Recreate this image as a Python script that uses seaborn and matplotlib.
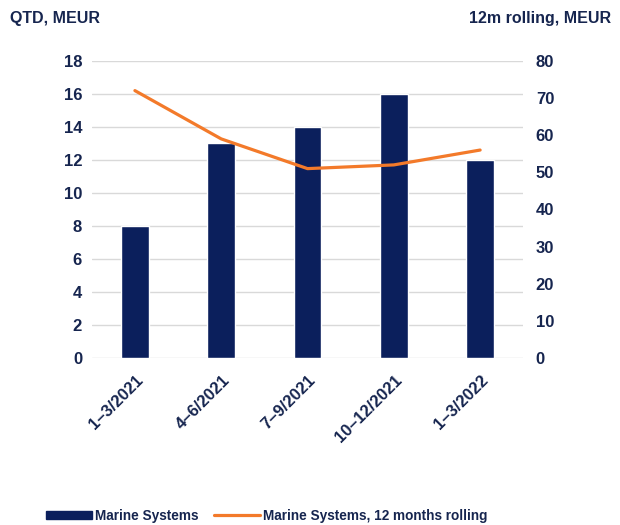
import matplotlib
matplotlib.use("Agg")
import matplotlib.pyplot as plt
import matplotlib.transforms as mtransforms
import seaborn as sns
import numpy as np
import pandas as pd
from matplotlib.patches import Patch
from matplotlib.lines import Line2D

categories = ["1\u20133/2021", "4\u20136/2021", "7\u20139/2021", "10\u201312/2021", "1\u20133/2022"]
qtd_values = [8, 13, 14, 16, 12]
rolling_values = [72, 59, 51, 52, 56]
left_ticks = [0, 2, 4, 6, 8, 10, 12, 14, 16, 18]
right_ticks = [0, 10, 20, 30, 40, 50, 60, 70, 80]

navy = "#0b1f5c"
orange = "#f37a2a"
text_c = "#16254f"

sns.set_theme(style="white")
plt.rcParams['font.family'] = ['Liberation Sans', 'DejaVu Sans']

df = pd.DataFrame({"period": categories, "qtd": qtd_values, "rolling": rolling_values,
                   "pos": np.arange(len(categories))})

fig = plt.figure(figsize=(6.2, 5.25), dpi=100)
ax = fig.add_axes([0.148, 0.318, 0.696, 0.566])
sns.barplot(data=df, x="period", y="qtd", color=navy, width=0.32, saturation=1, ax=ax)
ax.set_ylim(0, 18)
ax.set_xlim(-0.5, len(categories) - 0.5)
ax.set_yticks(left_ticks)
ax.yaxis.grid(True, color="#d9d9d9", linewidth=1)
ax.set_axisbelow(True)
for s in ax.spines.values():
    s.set_visible(False)
ax.set_xlabel("")
ax.set_ylabel("")
ax.tick_params(axis="both", length=0, labelsize=12, labelcolor=text_c)
ax.tick_params(axis="y", pad=7)
ax.tick_params(axis="x", pad=14)
ax.set_xticks(df["pos"])
ax.set_xticklabels(categories, rotation=45, ha="right", va="center", rotation_mode="anchor",
                   fontweight="bold")
offset = mtransforms.ScaledTranslation(0.06, 0, fig.dpi_scale_trans)
for lbl in ax.get_xticklabels():
    lbl.set_transform(lbl.get_transform() + offset)
for lbl in ax.get_yticklabels():
    lbl.set_fontweight("bold")

ax2 = ax.twinx()
sns.lineplot(data=df, x="pos", y="rolling", color=orange, linewidth=2.3, ax=ax2)
ax2.set_ylim(0, 80)
ax2.set_yticks(right_ticks)
for s in ax2.spines.values():
    s.set_visible(False)
ax2.set_xlabel("")
ax2.set_ylabel("")
ax2.tick_params(axis="y", length=0, labelsize=12, labelcolor=text_c, pad=9)
for lbl in ax2.get_yticklabels():
    lbl.set_fontweight("bold")
ax2.set_xlim(-0.5, len(categories) - 0.5)

fig.text(0.016, 0.964, "QTD, MEUR", fontsize=11.5, fontweight="bold", color=text_c, va="center")
fig.text(0.985, 0.964, "12m rolling, MEUR", fontsize=11.5, fontweight="bold", color=text_c,
         va="center", ha="right")

handles = [Patch(facecolor=navy, edgecolor=navy),
           Line2D([0], [0], color=orange, linewidth=2.3)]
leg = fig.legend(handles, ["Marine Systems", "Marine Systems, 12 months rolling"],
                 loc="center", bbox_to_anchor=(0.43, 0.018), ncol=2, frameon=False,
                 fontsize=9.8, handlelength=3.4, handleheight=0.5, columnspacing=1.1,
                 handletextpad=0.2)
for t in leg.get_texts():
    t.set_fontweight("bold")
    t.set_color(text_c)

fig.savefig("out.png", dpi=100)
